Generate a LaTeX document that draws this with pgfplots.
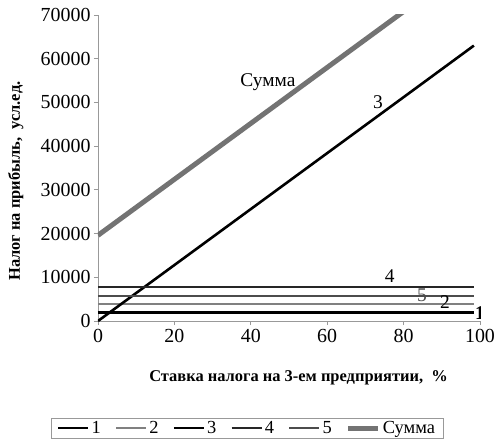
\documentclass[border=0pt]{standalone}
\usepackage{pgfplots}
\pgfplotsset{compat=1.18}
\usepackage{fontspec}
\setmainfont{Liberation Serif}
\begin{document}
\begin{tikzpicture}
\path[use as bounding box] (-98bp,-119bp) rectangle (396bp,321bp);
\begin{axis}[
  at={(0,0)}, anchor=south west,
  scale only axis, width=382bp, height=306bp,
  xmin=0, xmax=100, ymin=0, ymax=70000,
  axis x line*=bottom, axis y line*=left,
  axis line style={gray!80, line width=0.8pt},
  xtick={0,20,40,60,80,100},
  ytick={0,10000,20000,30000,40000,50000,60000,70000},
  tick align=outside, major tick length=4bp,
  tick style={gray!80, line width=0.8pt},
  scaled y ticks=false,
  /pgf/number format/assume math mode=true,
  yticklabel={\pgfmathprintnumber[fixed,precision=0,1000 sep={}]{\tick}},
  ticklabel style={font=\fontsize{20}{22}\selectfont},
  xticklabel style={yshift=-1bp},
  xlabel={\textbf{Ставка налога на 3-ем предприятии,\ \ \%}},
  ylabel={\textbf{Налог на прибыль,\ \ усл.ед.}},
  label style={font=\fontsize{16.5}{18}\selectfont},
  xlabel style={at={(axis description cs:0.525,-0.186)}, anchor=center},
  ylabel style={at={(axis description cs:-0.215,0.457)}, anchor=center},
  clip=true,
  legend columns=6,
  legend style={at={(axis description cs:0.39,-0.317)}, anchor=north,
    draw=gray!80, font=\fontsize{18.5}{20}\selectfont,
    /tikz/every even column/.append style={column sep=12bp},
    inner ysep=1bp, inner xsep=6bp},
  legend image code/.code={\draw[#1] (0bp,0bp) -- (30bp,0bp);},
]
\addplot[black, line width=2.6pt] coordinates {(0,1900) (98.4,1900)};
\addlegendentry{1}
\addplot[gray, line width=2.6pt] coordinates {(0,3900) (98.4,3900)};
\addlegendentry{2}
\addplot[black, line width=2.6pt] coordinates {(0,0) (20,12800) (40,25600) (60,38400) (80,51200) (98.4,63000)};
\addlegendentry{3}
\addplot[black!85, line width=2.6pt] coordinates {(0,7800) (98.4,7800)};
\addlegendentry{4}
\addplot[black!70, line width=2.6pt] coordinates {(0,5750) (98.4,5750)};
\addlegendentry{5}
\addplot[black!55, line width=5pt] coordinates {(0,19600) (20,32400) (40,45200) (60,58000) (80,70800) (98.4,82600)};
\addlegendentry{Сумма}
\node[font=\fontsize{19.5}{21}\selectfont] at (axis cs:44.5,54600) {Сумма};
\node[font=\fontsize{19.5}{21}\selectfont] at (axis cs:73.3,50100) {3};
\node[font=\fontsize{19.5}{21}\selectfont] at (axis cs:76.4,10300) {4};
\node[font=\fontsize{19.5}{21}\selectfont, text=black!70] at (axis cs:84.8,6000) {5};
\node[font=\fontsize{19.5}{21}\selectfont] at (axis cs:90.8,4300) {2};
\node[font=\fontsize{19.5}{21}\selectfont\bfseries] at (axis cs:100,1800) {1};
\end{axis}
\end{tikzpicture}
\end{document}
